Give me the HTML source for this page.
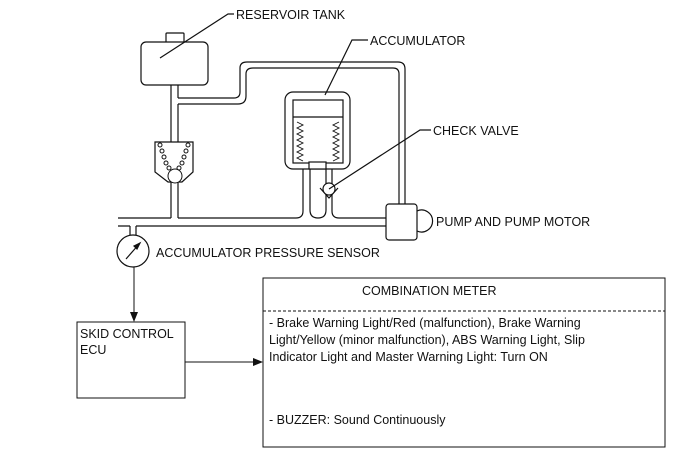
<!DOCTYPE html>
<html><head><style>
body{margin:0;background:#fff}
svg{display:block}
text{font-family:"Liberation Sans",Arial,sans-serif;font-size:12.5px;fill:#111}
</style></head><body>
<svg width="691" height="465" viewBox="0 0 691 465" fill="none" stroke="#111" stroke-width="1.2">
<!-- reservoir -->
<rect x="166" y="33" width="18" height="10" rx="1"/>
<rect x="141" y="42" width="67" height="43" rx="5" fill="#fff"/>
<polyline points="160,58 228,14 234,14"/>
<text x="236" y="19" stroke="none">RESERVOIR TANK</text>
<!-- vertical pipe from tank -->
<line x1="171" y1="85" x2="171" y2="142"/>
<line x1="178" y1="85" x2="178" y2="98"/>
<line x1="178" y1="104" x2="178" y2="142"/>
<line x1="171" y1="182" x2="171" y2="218"/>
<line x1="178" y1="182" x2="178" y2="218"/>
<!-- branch to top loop -->
<path d="M178,98 H234 Q240,98 240,92 V68 Q240,62 247,62 H398 Q405,62 405,69 V205"/>
<path d="M178,104 H238 Q246,104 246,96 V74 Q246,68 253,68 H393 Q399,68 399,74 V205"/>
<!-- valve body -->
<path d="M155,142 H193 V172 L182,182 H168 L155,172 Z" fill="#fff"/>
<g stroke-width="1">
<circle cx="160" cy="145" r="2"/><circle cx="162" cy="151" r="2"/><circle cx="164" cy="157" r="2"/><circle cx="166" cy="163" r="2"/><circle cx="169" cy="168" r="2"/>
<circle cx="188" cy="145" r="2"/><circle cx="186" cy="151" r="2"/><circle cx="184" cy="157" r="2"/><circle cx="182" cy="163" r="2"/><circle cx="179" cy="168" r="2"/>
<circle cx="175" cy="176" r="7" fill="#fff"/>
</g>
<!-- main pipe -->
<path d="M118,218 H171 M178,218 H296 Q303,218 303,211 V168"/>
<path d="M118,226 H130 M136,226 H386"/>
<path d="M310,168 V210 Q310,218 318,218 Q326,218 326,210 V168"/>
<path d="M332,168 V211 Q332,218 339,218 H386"/>
<!-- accumulator -->
<rect x="285" y="92" width="65" height="77" rx="8" fill="#fff"/>
<rect x="293" y="100" width="50" height="63"/>
<line x1="293" y1="117" x2="343" y2="117"/>
<rect x="309" y="162" width="17" height="7" fill="#fff"/>
<polyline stroke-width="0.9" points="297,122 303,125 297,128 303,131 297,134 303,137 297,140 303,143 297,146 303,149 297,152 303,155 297,158 303,161"/>
<polyline stroke-width="0.9" points="339,122 333,125 339,128 333,131 339,134 333,137 339,140 333,143 339,146 333,149 339,152 333,155 339,158 333,161"/>
<polyline points="325,95 352,40 368,40"/>
<text x="370" y="45" stroke="none">ACCUMULATOR</text>
<!-- check valve -->
<path d="M320,188 L329,198 L338,188" fill="#fff"/>
<circle cx="329" cy="189" r="6" fill="#fff"/>
<polyline points="329,189 420,130 431,130"/>
<text x="433" y="135" stroke="none">CHECK VALVE</text>
<!-- pump -->
<rect x="386" y="204" width="31" height="36" rx="3" fill="#fff"/>
<path d="M417,211 A11,11 0 1 1 417,231"/>
<text x="436" y="226" stroke="none">PUMP AND PUMP MOTOR</text>
<!-- gauge -->
<line x1="130" y1="226" x2="130" y2="235"/>
<line x1="136" y1="226" x2="136" y2="235"/>
<circle cx="133" cy="251" r="16" fill="#fff"/>
<line x1="126" y1="259" x2="140" y2="243"/>
<path d="M140,243 L134,246 L137,249 Z" fill="#111"/>
<text x="156" y="257" stroke="none">ACCUMULATOR PRESSURE SENSOR</text>
<!-- arrows -->
<line x1="134" y1="267" x2="134" y2="314" stroke-width="1"/>
<path d="M130,312 L138,312 L134,322 Z" fill="#111" stroke="none"/>
<rect x="77" y="322" width="108" height="76" stroke-width="1"/>
<text x="80" y="338" stroke="none">SKID CONTROL</text>
<text x="80" y="354" stroke="none">ECU</text>
<line x1="185" y1="362" x2="255" y2="362" stroke-width="1"/>
<path d="M253,358 L263,362 L253,366 Z" fill="#111" stroke="none"/>
<rect x="263" y="278" width="402" height="169" stroke-width="1"/>
<line x1="263" y1="311" x2="665" y2="311" stroke-width="1" stroke-dasharray="3,2"/>
<text x="362" y="295" stroke="none">COMBINATION METER</text>
<text x="269" y="327" stroke="none">- Brake Warning Light/Red (malfunction), Brake Warning</text>
<text x="269" y="344" stroke="none">Light/Yellow (minor malfunction), ABS Warning Light, Slip</text>
<text x="269" y="361" stroke="none">Indicator Light and Master Warning Light: Turn ON</text>
<text x="269" y="424" stroke="none">- BUZZER: Sound Continuously</text>
</svg>
</body></html>
